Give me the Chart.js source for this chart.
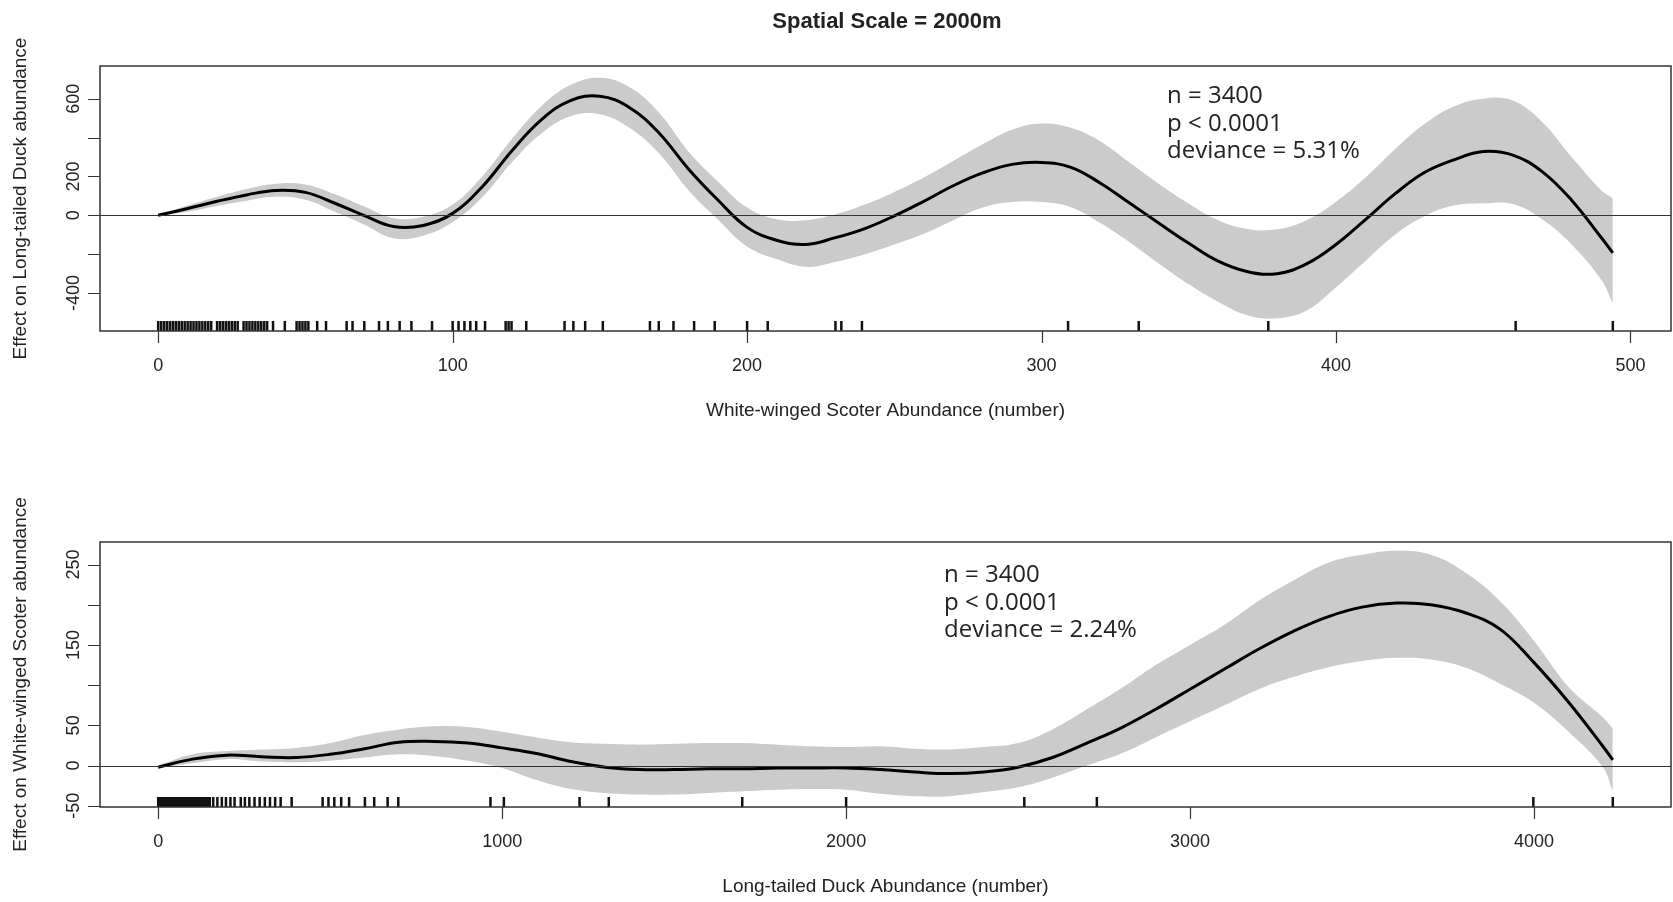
<!DOCTYPE html>
<html>
<head>
<meta charset="utf-8">
<title>Spatial Scale = 2000m</title>
<script src="https://cdn.jsdelivr.net/npm/chart.js@4.4.0/dist/chart.umd.min.js"></script>
<style>
  html, body { margin: 0; padding: 0; background: #fff; }
  #wrap { position: relative; width: 1673px; height: 902px; }
  .panel { position: absolute; left: 0; width: 1673px; height: 451px; }
</style>
</head>
<body>
<div id="wrap">
  <div class="panel" style="top:0"><canvas id="topChart" width="1673" height="451"></canvas></div>
  <div class="panel" style="top:451px"><canvas id="bottomChart" width="1673" height="451"></canvas></div>
</div>
<script>
// GAM smooth: effect of White-winged Scoter abundance on Long-tailed Duck abundance
const topX = [0, 10, 20, 30, 40, 50, 60, 70, 80, 90,
  100, 110, 120, 130, 140, 150, 160, 170, 180, 190,
  200, 210, 220, 230, 240, 250, 260, 270, 280, 290,
  300, 310, 320, 330, 340, 350, 360, 370, 380, 390,
  400, 410, 420, 430, 440, 450, 460, 470, 480, 490, 494];
const topFit = [0, 35, 72, 105, 128, 118, 62, -2, -58, -52,
  10, 146, 330, 490, 590, 612, 555, 425, 240, 80,
  -62, -128, -150, -115, -68, -3, 72, 152, 218, 262,
  272, 247, 165, 62, -42, -144, -236, -290, -300, -250,
  -150, -22, 110, 220, 285, 328, 310, 225, 78, -113, -193];
const topUpper = [2, 50, 95, 135, 163, 158, 108, 45, -15, -8,
  55, 200, 390, 560, 670, 708, 660, 530, 330, 175,
  40, -20, -25, 5, 55, 120, 195, 280, 365, 440,
  472, 450, 380, 270, 160, 60, -25, -70, -72, -25,
  70, 195, 340, 470, 560, 600, 590, 480, 300, 130, 87];
const topLower = [-2, 18, 48, 75, 95, 80, 18, -48, -118, -105,
  -35, 92, 270, 420, 510, 520, 450, 320, 130, -20,
  -160, -225, -265, -240, -200, -150, -95, -25, 40, 68,
  68, 42, -40, -140, -250, -355, -445, -515, -530, -490,
  -370, -235, -100, -5, 50, 62, 58, -20, -150, -330, -452];
const topRug = [0, 1, 2, 3, 4, 5, 6, 7, 8, 9, 10, 11, 12, 13, 14, 15, 16, 17, 18,
  20, 21, 22, 23, 24, 25, 26, 27, 29, 30, 31, 32, 33, 34, 35, 36, 37,
  39, 43, 47, 48, 49, 50, 51, 54, 57, 64, 66, 70, 75, 78, 82, 86, 93,
  100, 102, 104, 106, 108, 111, 118, 119, 120, 125, 138, 141, 145, 151,
  167, 170, 175, 182, 189, 200, 207, 230, 232, 239, 309, 333, 377, 461, 494];
const topXTicks = [0, 100, 200, 300, 400, 500];
const topYTicks = [-400, -200, 0, 200, 400, 600];
const topYLabels = [-400, 0, 200, 600];

// GAM smooth: effect of Long-tailed Duck abundance on White-winged Scoter abundance
const bottomX = [0, 100, 200, 300, 400, 500, 600, 700, 800, 900,
  1000, 1100, 1200, 1300, 1400, 1500, 1600, 1700, 1800, 1900,
  2000, 2100, 2200, 2300, 2400, 2500, 2600, 2700, 2800, 2900,
  3000, 3100, 3200, 3300, 3400, 3500, 3600, 3700, 3800, 3900,
  4000, 4100, 4200, 4229];
const bottomFit = [-2, 8, 13, 11, 10, 14, 21, 29, 30, 28,
  22, 15, 5, -2, -5, -5, -4, -4, -3, -3,
  -3, -5, -8, -10, -8, -2, 10, 28, 47, 70,
  95, 120, 145, 167, 185, 197, 202, 200, 190, 170,
  128, 79, 24, 7];
const bottomUpper = [0, 14, 18, 20, 22, 28, 38, 45, 49, 48,
  42, 35, 29, 27, 26, 27, 28, 28, 26, 24,
  23, 24, 21, 20, 23, 28, 45, 70, 96, 125,
  150, 175, 205, 230, 252, 262, 267, 262, 240, 205,
  155, 98, 60, 46];
const bottomLower = [-3, 3, 8, 5, 4, 6, 10, 14, 12, 6,
  -3, -18, -29, -34, -36, -36, -34, -32, -30, -29,
  -30, -35, -38, -38, -33, -27, -15, 0, 15, 35,
  55, 75, 95, 110, 122, 130, 134, 132, 122, 102,
  78, 42, -2, -32];
const bottomRug = [0, 5, 10, 15, 20, 25, 30, 35, 40, 45, 50, 55, 60, 65, 70, 75,
  80, 85, 90, 95, 100, 105, 110, 115, 120, 125, 130, 135, 140, 145, 150,
  160, 172, 185, 197, 210, 222, 240, 252, 265, 280, 295, 310, 325, 340, 356,
  388, 478, 495, 512, 532, 555, 601, 628, 667, 698,
  966, 1005, 1225, 1310, 1698, 2000, 2518, 2729, 3998, 4229];
const bottomXTicks = [0, 1000, 2000, 3000, 4000];
const bottomYTicks = [-50, 0, 50, 100, 150, 200, 250];
const bottomYLabels = [-50, 0, 50, 150, 250];

const TICK_FONT = '18px "Liberation Sans", Arial, sans-serif';
const AXIS_FONT = '19px "Liberation Sans", Arial, sans-serif';
const NOTE_FONT = '24px "Open Sans", sans-serif';
const INK = '#222';

function pts(xs, ys) {
  return xs.map((x, i) => ({ x: x, y: ys[i] }));
}

// base-R style frame: box, outward ticks, rotated y labels, rug, zero line
const rFrame = {
  id: 'rFrame',
  afterDatasetsDraw(chart) {
    const { ctx, chartArea: a, scales: { y } } = chart;
    const y0 = Math.round(y.getPixelForValue(0)) + 0.5;
    ctx.save();
    ctx.strokeStyle = '#333';
    ctx.lineWidth = 1.2;
    ctx.beginPath();
    ctx.moveTo(a.left, y0);
    ctx.lineTo(a.right, y0);
    ctx.stroke();
    ctx.restore();
  },
  afterDraw(chart, args, o) {
    const { ctx, chartArea: a, scales: { x, y } } = chart;
    ctx.save();

    // rug
    ctx.strokeStyle = '#111';
    ctx.lineWidth = 2.5;
    ctx.beginPath();
    o.rug.forEach(v => {
      const px = x.getPixelForValue(v);
      ctx.moveTo(px, a.bottom);
      ctx.lineTo(px, a.bottom - 10);
    });
    ctx.stroke();

    // box
    ctx.strokeStyle = '#333';
    ctx.lineWidth = 1.5;
    ctx.strokeRect(a.left, a.top, a.right - a.left, a.bottom - a.top);

    // axis ticks
    ctx.lineWidth = 1.2;
    ctx.beginPath();
    o.xTicks.forEach(v => {
      const px = Math.round(x.getPixelForValue(v)) + 0.5;
      ctx.moveTo(px, a.bottom);
      ctx.lineTo(px, a.bottom + 12);
    });
    o.yTicks.forEach(v => {
      const py = Math.round(y.getPixelForValue(v)) + 0.5;
      ctx.moveTo(a.left, py);
      ctx.lineTo(a.left - 12, py);
    });
    ctx.stroke();

    // tick labels
    ctx.fillStyle = INK;
    ctx.font = TICK_FONT;
    ctx.textAlign = 'center';
    ctx.textBaseline = 'middle';
    o.xTicks.forEach(v => {
      ctx.fillText(String(v), x.getPixelForValue(v), a.bottom + 35);
    });
    o.yLabels.forEach(v => {
      ctx.save();
      ctx.translate(a.left - 26, y.getPixelForValue(v));
      ctx.rotate(-Math.PI / 2);
      ctx.fillText(String(v), 0, 0);
      ctx.restore();
    });

    // axis titles
    ctx.font = AXIS_FONT;
    ctx.fillText(o.xTitle, (a.left + a.right) / 2, a.bottom + 80);
    ctx.save();
    ctx.translate(21, (a.top + a.bottom) / 2);
    ctx.rotate(-Math.PI / 2);
    ctx.fillText(o.yTitle, 0, 0);
    ctx.restore();

    // model summary
    ctx.font = NOTE_FONT;
    ctx.textAlign = 'left';
    ctx.textBaseline = 'alphabetic';
    o.note.lines.forEach((t, i) => {
      ctx.fillText(t, o.note.x, o.note.y + i * 27.5);
    });

    // figure title
    if (o.title) {
      ctx.font = 'bold 22px "Liberation Sans", Arial, sans-serif';
      ctx.textAlign = 'center';
      ctx.fillText(o.title, 887, 28);
    }
    ctx.restore();
  }
};

function makePanel(id, xs, fit, upper, lower, xRange, yRange, pad, frame) {
  return new Chart(document.getElementById(id), {
    type: 'line',
    data: {
      datasets: [
        { data: pts(xs, fit), borderColor: '#000', borderWidth: 3, pointRadius: 0,
          fill: false, tension: 0.4, borderJoinStyle: 'round' },
        { data: pts(xs, upper), borderColor: 'rgba(0,0,0,0)', borderWidth: 0, pointRadius: 0,
          backgroundColor: '#cbcbcb', fill: '+1', tension: 0.4 },
        { data: pts(xs, lower), borderColor: 'rgba(0,0,0,0)', borderWidth: 0, pointRadius: 0,
          fill: false, tension: 0.4 }
      ]
    },
    options: {
      responsive: false,
      animation: false,
      events: [],
      layout: { padding: pad },
      scales: {
        x: { type: 'linear', min: xRange[0], max: xRange[1], display: false },
        y: { type: 'linear', min: yRange[0], max: yRange[1], display: false }
      },
      plugins: {
        legend: { display: false },
        tooltip: { enabled: false },
        rFrame: frame
      }
    },
    plugins: [rFrame]
  });
}

makePanel('topChart', topX, topFit, topUpper, topLower,
  [-19.76, 513.76], [-595, 768],
  { left: 100, right: 2, top: 66, bottom: 120 },
  {
    rug: topRug, xTicks: topXTicks, yTicks: topYTicks, yLabels: topYLabels,
    xTitle: 'White-winged Scoter Abundance (number)',
    yTitle: 'Effect on Long-tailed Duck abundance',
    note: { x: 1167, y: 103, lines: ['n = 3400', 'p < 0.0001', 'deviance = 5.31%'] },
    title: 'Spatial Scale = 2000m'
  });

makePanel('bottomChart', bottomX, bottomFit, bottomUpper, bottomLower,
  [-169.2, 4398.2], [-51.5, 278],
  { left: 100, right: 2, top: 91, bottom: 95 },
  {
    rug: bottomRug, xTicks: bottomXTicks, yTicks: bottomYTicks, yLabels: bottomYLabels,
    xTitle: 'Long-tailed Duck Abundance (number)',
    yTitle: 'Effect on White-winged Scoter abundance',
    note: { x: 944, y: 131, lines: ['n = 3400', 'p < 0.0001', 'deviance = 2.24%'] }
  });
</script>
</body>
</html>
